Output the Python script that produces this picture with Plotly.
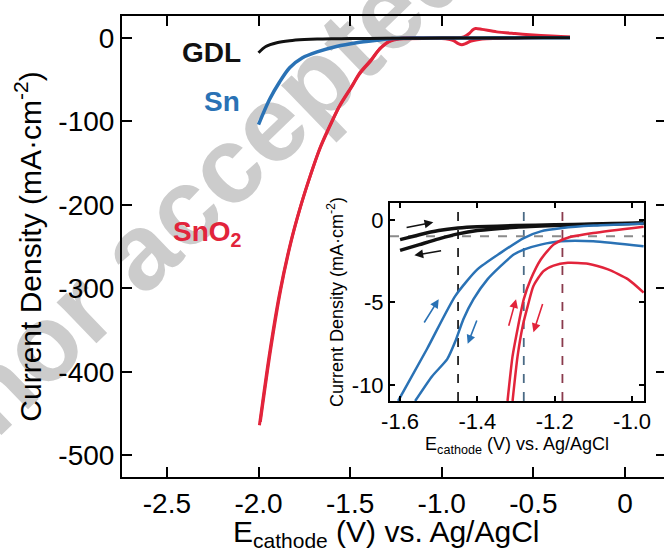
import plotly.graph_objects as go

# ---------------- main panel data ----------------
gdl_x = [-2.0, -1.96, -1.9, -1.83, -1.75, -1.68, -1.6, -1.5, -1.4, -1.2, -1.0, -0.8, -0.6, -0.4, -0.3]
gdl_y = [-18, -10.5, -6, -3.6, -2.2, -1.5, -1.2, -1.0, -0.8, -0.6, -0.4, -0.3, -0.2, -0.1, -0.1]

sn_x = [-2.0, -1.94, -1.885, -1.83, -1.76, -1.68, -1.575, -1.465, -1.355, -1.27, -1.2, -1.1,
        -1.0, -0.8, -0.6, -0.4, -0.3]
sn_y = [-104, -74, -53, -36, -24, -17, -10.5, -6, -3, -1, -0.6, -0.4,
        -0.3, -0.2, -0.1, -0.1, -0.1]

sno2_cat_x = [-0.3, -0.4, -0.5, -0.6, -0.7, -0.78, -0.84, -0.87, -0.89, -0.91, -0.94, -1.0, -1.1,
              -1.2, -1.23, -1.285, -1.34, -1.39, -1.45, -1.50, -1.56, -1.61, -1.667, -1.72, -1.776,
              -1.83, -1.885, -1.94, -1.995]
sno2_cat_y = [0.5, 0.3, 0, -0.3, -0.8, -1.5, -4, -7, -8.4, -7, -3, -1, -0.8,
              -1.2, -1.5, -4.4, -14, -28.5, -44, -62, -83, -106, -134, -167, -206,
              -250, -306, -378, -464]

sno2_an_x = [-1.99, -1.934, -1.879, -1.824, -1.77, -1.714, -1.661, -1.604, -1.554, -1.494, -1.444,
             -1.384, -1.334, -1.279, -1.224, -1.15, -1.0, -0.92, -0.88, -0.85, -0.83, -0.815,
             -0.78, -0.7, -0.6, -0.52, -0.4, -0.3]
sno2_an_y = [-460, -374, -302, -246, -202, -163, -130, -102, -80, -59, -41,
             -26, -12, -3.5, -0.5, 0, 0, 0, 1, 5, 9.5, 11,
             10, 7, 5, 3.6, 2, 1]

main_xticks = [-2.5, -2.0, -1.5, -1.0, -0.5, 0]
main_xtext = ["-2.5", "-2.0", "-1.5", "-1.0", "-0.5", "0"]
main_yticks = [0, -100, -200, -300, -400, -500]
main_ytext = ["0", "-100", "-200", "-300", "-400", "-500"]

# ---------------- inset data ----------------
in_gdl_fwd_x = [-1.6, -1.55, -1.5, -1.45, -1.4, -1.3, -1.2, -1.1, -1.0, -0.97]
in_gdl_fwd_y = [-1.2, -0.9, -0.65, -0.5, -0.42, -0.35, -0.3, -0.25, -0.2, -0.18]
in_gdl_rev_x = [-1.6, -1.55, -1.5, -1.45, -1.4, -1.3, -1.2, -1.1, -1.0, -0.97]
in_gdl_rev_y = [-1.85, -1.5, -1.15, -0.85, -0.65, -0.45, -0.35, -0.28, -0.22, -0.2]

in_sn_a_x = [-1.605, -1.53, -1.457, -1.40, -1.34, -1.28, -1.236, -1.18, -1.1, -1.0, -0.97]
in_sn_a_y = [-10.96, -7.8, -4.6, -3.0, -2.0, -1.1, -0.7, -0.5, -0.35, -0.25, -0.22]
in_sn_b_x = [-1.561, -1.517, -1.478, -1.457, -1.436, -1.41, -1.374, -1.34, -1.306, -1.28, -1.236,
             -1.184, -1.10, -0.97]
in_sn_b_y = [-10.96, -9.46, -8.43, -7.35, -6.0, -4.8, -3.6, -2.8, -2.1, -1.8, -1.5,
             -1.3, -1.3, -1.6]

in_sno2_a_x = [-1.322, -1.309, -1.296, -1.28, -1.262, -1.236, -1.203, -1.166, -1.10, -0.97]
in_sno2_a_y = [-10.96, -8.25, -6.6, -4.8, -3.6, -2.4, -1.5, -1.08, -0.8, -0.42]
in_sno2_b_x = [-1.309, -1.296, -1.283, -1.27, -1.255, -1.229, -1.203, -1.166, -1.114, -1.062, -1.01, -0.97]
in_sno2_b_y = [-10.96, -8.25, -6.45, -5.24, -4.0, -3.1, -2.77, -2.6, -2.65, -3.0, -3.6, -4.4]

vline_x = [-1.45, -1.28, -1.18]
vline_colors = ["#222222", "#4a6a85", "#8a3a4c"]
hline_y = -1.0

arrow_head_x = [-1.514, -1.563, -1.50, -1.425, -1.30, -1.255]
arrow_head_y = [-0.15, -2.15, -4.8, -7.5, -4.8, -6.8]
arrow_tail_x = [-1.587, -1.49, -1.54, -1.40, -1.32, -1.23]
arrow_tail_y = [-0.48, -1.85, -6.3, -6.0, -6.5, -5.0]
arrow_colors = ["#111111", "#111111", "#2a72b5", "#2a72b5", "#e2243b", "#e2243b"]

in_xticks = [-1.6, -1.4, -1.2, -1.0]
in_xtext = ["-1.6", "-1.4", "-1.2", "-1.0"]
in_yticks = [0, -5, -10]
in_ytext = ["0", "-5", "-10"]

BLACK = "#111111"
BLUE = "#2a72b5"
RED = "#e2243b"
FONT = "Liberation Sans, Arial, Helvetica, sans-serif"

fig = go.Figure()

def line(x, y, color, width, xa="x", ya="y", smooth=0.8):
    fig.add_trace(go.Scatter(x=x, y=y, mode="lines", xaxis=xa, yaxis=ya,
                             line=dict(color=color, width=width, shape="spline", smoothing=smooth),
                             showlegend=False, hoverinfo="skip"))

# main traces
line(sno2_cat_x, sno2_cat_y, RED, 3)
line(sno2_an_x, sno2_an_y, RED, 3)
line(sn_x, sn_y, BLUE, 3.5)
line(gdl_x, gdl_y, BLACK, 3)

# invisible trace for right-side tick axis
fig.add_trace(go.Scatter(x=[None], y=[None], xaxis="x", yaxis="y3", showlegend=False, hoverinfo="skip"))

# inset traces
line(in_gdl_fwd_x, in_gdl_fwd_y, BLACK, 3.5, "x2", "y2", 0.6)
line(in_gdl_rev_x, in_gdl_rev_y, BLACK, 3.5, "x2", "y2", 0.6)
line(in_sn_a_x, in_sn_a_y, BLUE, 2.5, "x2", "y2", 0.6)
line(in_sn_b_x, in_sn_b_y, BLUE, 2.5, "x2", "y2", 0.6)
line(in_sno2_a_x, in_sno2_a_y, RED, 2.5, "x2", "y2", 0.6)
line(in_sno2_b_x, in_sno2_b_y, RED, 2.5, "x2", "y2", 0.6)

shapes = []
for vx, vc in zip(vline_x, vline_colors):
    shapes.append(dict(type="line", xref="x2", yref="y2 domain", x0=vx, x1=vx, y0=0, y1=1,
                       line=dict(color=vc, width=1.8, dash="dash"), layer="below"))
shapes.append(dict(type="line", xref="x2 domain", yref="y2", x0=0, x1=1, y0=hline_y, y1=hline_y,
                   line=dict(color="#8a8a8a", width=2, dash="dash"), layer="below"))
# watermark
shapes.append(dict(type="line", xref="paper", yref="paper", x0=-0.151, y0=0.308, x1=0.2177, y1=0.7419,
                   line=dict(color="rgba(0,0,0,0)", width=0), layer="below",
                   label=dict(text="<b>Author accepted</b>", textangle=-44, textposition="middle",
                              xanchor="center", yanchor="middle",
                              font=dict(family=FONT, size=108, color="#cccccc"))))

annotations = []
for hx, hy, tx, ty, c in zip(arrow_head_x, arrow_head_y, arrow_tail_x, arrow_tail_y, arrow_colors):
    annotations.append(dict(x=hx, y=hy, ax=tx, ay=ty, xref="x2", yref="y2", axref="x2", ayref="y2",
                            showarrow=True, arrowhead=2, arrowsize=1.1, arrowwidth=1.6,
                            arrowcolor=c, text=""))
annotations += [
    dict(x=-2.254, y=-18, xref="x", yref="y", text="<b>GDL</b>", showarrow=False,
         font=dict(family=FONT, size=28, color=BLACK)),
    dict(x=-2.199, y=-76, xref="x", yref="y", text="<b>Sn</b>", showarrow=False,
         font=dict(family=FONT, size=28, color=BLUE)),
    dict(x=-2.276, y=-234, xref="x", yref="y", text="<b>SnO<sub>2</sub></b>", showarrow=False,
         font=dict(family=FONT, size=28, color=RED)),
    # main x-axis title
    dict(x=0.487, y=-0.122, xref="paper", yref="paper", xanchor="center", yanchor="middle",
         text="E<sub>cathode</sub> (V) vs. Ag/AgCl", showarrow=False,
         font=dict(family=FONT, size=30, color="black")),
]

axis_common = dict(showgrid=False, zeroline=False, showline=True, linecolor="black", linewidth=2,
                   ticks="inside", tickcolor="black", tickwidth=2, automargin=False)

fig.update_layout(
    width=664, height=550,
    margin=dict(l=122, r=0, t=16, b=73),
    paper_bgcolor="white", plot_bgcolor="rgba(0,0,0,0)",
    font=dict(family=FONT, color="black"),
    xaxis=dict(**axis_common, domain=[0, 1], range=[-2.745, 0.213], mirror="ticks", ticklen=10,
               tickvals=main_xticks, ticktext=main_xtext, tickfont=dict(size=28),
               anchor="y"),
    yaxis=dict(**axis_common, domain=[0, 1], range=[-526, 26], ticklen=10,
               tickvals=main_yticks, ticktext=main_ytext, tickfont=dict(size=28),
               title=dict(text="Current Density (mA·cm<sup>-2</sup>)", font=dict(size=30), standoff=8),
               anchor="x"),
    yaxis3=dict(overlaying="y", side="right", anchor="x", range=[-526, 26], showgrid=False,
                zeroline=False, showline=False, ticks="inside", ticklen=8, tickwidth=2,
                tickcolor="black", tickvals=main_yticks, showticklabels=False, automargin=False),
    xaxis2=dict(**axis_common, domain=[0.4945, 0.9631], range=[-1.626, -0.969], mirror="ticks",
                ticklen=5, tickvals=in_xticks, ticktext=in_xtext, tickfont=dict(size=22),
                title=dict(text="E<sub>cathode</sub> (V) vs. Ag/AgCl", font=dict(size=18), standoff=4),
                anchor="y2"),
    yaxis2=dict(**axis_common, domain=[0.1649, 0.5944], range=[-10.96, 1.02], mirror="ticks",
                ticklen=5, tickvals=in_yticks, ticktext=in_ytext, tickfont=dict(size=22),
                title=dict(text="Current Density (mA·cm<sup>-2</sup>)", font=dict(size=18), standoff=4),
                anchor="x2"),
    shapes=shapes,
    annotations=annotations,
)

fig.write_html("out.html")
